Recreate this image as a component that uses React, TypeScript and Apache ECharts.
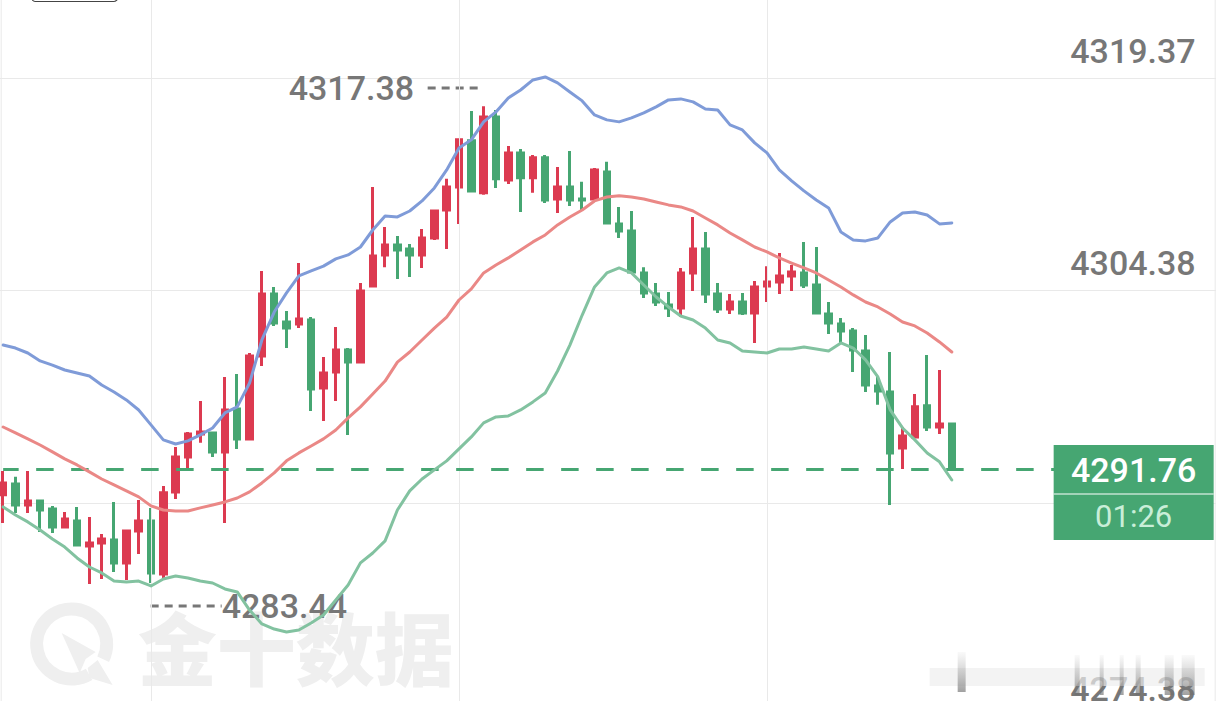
import React, { useEffect, useRef } from "react";
import * as echarts from "echarts";

const opens = [4289.95,4290.72,4289.24,4289.52,4288.95,4287.68,4288.11,4286.34,4286.56,4286.77,4285.15,4287.40,4288.11,4284.37,4290.16,4292.63,4294.25,4294.32,4292.98,4296.01,4293.90,4299.75,4304.13,4302.15,4302.01,4302.29,4297.49,4298.62,4300.17,4299.32,4304.69,4306.88,4307.58,4307.30,4306.88,4308.08,4310.05,4311.68,4314.93,4311.26,4316.62,4312.17,4314.08,4312.32,4313.73,4310.83,4311.68,4310.83,4310.83,4312.74,4309.07,4308.57,4305.61,4304.13,4303.35,4303.14,4305.61,4307.30,4304.13,4303.06,4303.56,4302.78,4304.69,4304.97,4305.40,4305.61,4304.76,4302.71,4302.01,4301.51,4300.10,4297.63,4297.21,4293.26,4294.04,4296.23,4294.74,4294.95];
const closes = [4290.79,4289.24,4289.52,4288.88,4287.68,4288.25,4286.41,4286.56,4286.84,4285.15,4287.40,4288.11,4284.44,4290.09,4292.63,4294.25,4294.39,4292.98,4295.94,4293.90,4299.75,4304.13,4302.08,4301.72,4302.36,4297.42,4298.55,4300.17,4299.32,4304.34,4306.81,4307.58,4307.23,4306.88,4308.08,4309.98,4311.68,4315.00,4311.40,4316.62,4312.25,4314.08,4312.32,4313.73,4310.76,4311.68,4310.76,4310.76,4312.88,4309.14,4308.57,4305.68,4304.20,4303.56,4303.14,4305.61,4307.30,4304.13,4303.06,4303.56,4302.78,4304.62,4304.97,4305.40,4305.68,4304.76,4302.78,4302.08,4301.51,4300.17,4297.70,4297.28,4292.91,4294.11,4296.16,4294.74,4294.95,4291.76];
const lows = [4287.97,4288.67,4288.67,4287.33,4287.26,4287.61,4286.34,4283.66,4284.01,4284.51,4283.95,4285.78,4283.73,4284.08,4289.66,4291.85,4293.62,4292.63,4287.97,4293.19,4293.90,4299.04,4301.87,4300.31,4301.72,4295.87,4295.17,4296.58,4294.18,4299.32,4304.69,4306.02,4305.19,4305.33,4305.96,4307.94,4307.30,4309.07,4311.40,4311.12,4311.61,4311.89,4309.91,4311.26,4310.55,4309.84,4310.34,4310.05,4310.83,4309.07,4308.08,4305.61,4303.84,4303.28,4302.50,4302.50,4304.34,4303.49,4302.78,4302.71,4302.64,4300.67,4303.56,4304.13,4304.34,4304.55,4302.71,4301.30,4300.67,4298.62,4297.21,4296.30,4289.24,4291.78,4294.04,4294.46,4294.25,4291.76];
const highs = [4291.64,4291.22,4291.64,4289.59,4289.17,4288.74,4289.10,4288.39,4287.19,4289.45,4287.47,4289.59,4289.03,4290.58,4293.33,4294.39,4296.58,4294.39,4298.27,4298.48,4299.96,4305.75,4304.62,4302.92,4306.31,4302.50,4299.68,4301.79,4300.31,4304.90,4311.68,4308.85,4308.22,4307.65,4308.71,4309.98,4312.25,4315.07,4317.04,4317.38,4317.11,4314.57,4314.36,4313.94,4313.94,4313.09,4314.22,4312.04,4313.02,4313.45,4310.27,4309.98,4306.02,4304.90,4304.27,4305.96,4309.56,4308.50,4304.90,4304.13,4304.20,4305.04,4306.09,4307.02,4306.17,4307.80,4307.44,4303.56,4302.43,4301.72,4301.23,4298.27,4300.03,4294.74,4297.07,4299.82,4298.76,4294.95];

const upperBand = [4300.52,4300.31,4299.96,4299.40,4299.11,4298.76,4298.55,4298.34,4297.70,4297.21,4296.65,4295.94,4294.89,4293.83,4293.54,4293.76,4294.18,4294.67,4295.73,4296.16,4297.84,4300.88,4302.85,4304.20,4305.40,4305.75,4306.09,4306.60,4306.88,4307.44,4308.64,4309.63,4309.56,4309.98,4310.69,4311.61,4312.88,4314.43,4315.00,4316.27,4316.97,4317.96,4318.52,4319.23,4319.44,4319.02,4318.38,4317.75,4316.76,4316.41,4316.27,4316.55,4316.90,4317.33,4317.82,4317.89,4317.68,4317.18,4317.11,4316.06,4315.70,4314.79,4314.08,4312.88,4312.11,4311.40,4310.76,4310.20,4308.50,4307.94,4307.87,4308.08,4309.21,4309.84,4309.91,4309.70,4309.07,4309.14];
const middleBand = [4294.74,4294.32,4293.90,4293.47,4292.98,4292.49,4292.06,4291.57,4291.07,4290.65,4290.23,4289.81,4289.17,4288.88,4288.81,4288.81,4289.03,4289.24,4289.45,4289.73,4290.16,4290.79,4291.50,4292.35,4292.91,4293.40,4293.90,4294.53,4295.38,4296.16,4297.07,4297.98,4299.32,4300.03,4300.88,4301.72,4302.50,4303.70,4304.48,4305.61,4306.17,4306.67,4307.23,4307.80,4308.29,4309.00,4309.56,4310.05,4310.69,4310.97,4311.05,4310.97,4310.83,4310.62,4310.41,4310.27,4309.98,4309.49,4309.00,4308.43,4307.94,4307.44,4307.09,4306.67,4306.31,4305.96,4305.61,4305.11,4304.62,4304.06,4303.56,4303.21,4302.71,4302.15,4301.87,4301.37,4300.74,4300.03];
const lowerBand = [4289.10,4288.53,4288.04,4287.47,4286.84,4286.27,4285.50,4284.86,4284.44,4283.87,4283.80,4283.87,4283.52,4284.01,4284.22,4284.08,4283.87,4283.73,4283.31,4283.10,4281.82,4280.84,4280.48,4280.27,4280.41,4280.91,4281.47,4282.53,4283.59,4285.15,4285.85,4286.70,4288.88,4290.23,4291.07,4291.71,4292.35,4293.19,4294.04,4295.03,4295.45,4295.52,4295.94,4296.51,4297.14,4298.69,4300.52,4302.64,4304.62,4305.61,4305.96,4305.61,4304.76,4303.91,4303.21,4302.57,4302.29,4301.72,4300.88,4300.67,4300.10,4300.03,4299.96,4300.24,4300.24,4300.38,4300.24,4300.10,4300.67,4300.31,4299.47,4298.27,4295.94,4294.67,4293.83,4292.91,4292.28,4291.00];

const yGridValues = [4319.37, 4304.38, 4289.38, 4274.38];
const yTickLabels = [4319.37, 4304.38, 4274.38];
const verticalGridAt = [12, 37, 62];
const highLabel = "4317.38";
const lowLabel = "4283.44";
const lastPrice = 4291.76;
const lastPriceText = "4291.76";
const countdownText = "01:26";
const watermarkText = "金十数据";
const slotCount = 99;

const RED = "#dc3a50";
const GREEN = "#46a672";
const GREY = "#777777";
const FONT = "Roboto";

const streaks: [number, number, number][] = [[958, 8, 652], [1075, 5, 655], [1100, 4, 655], [1120, 4, 655], [1136, 5, 655], [1165, 9, 655], [1182, 13, 655]];

export default function App() {
  const ref = useRef<HTMLDivElement>(null);
  useEffect(() => {
    document.documentElement.style.overflow = "hidden";
    document.body.style.margin = "0";
    document.body.style.overflow = "hidden";
    const chart = echarts.init(ref.current!, undefined, { renderer: "svg" });
    const candles = opens.map((o, i) => [o, closes[i], lows[i], highs[i]]);
    const categories = Array.from({ length: slotCount }, (_, i) => String(i));
    const bandLine = (name: string, data: number[], color: string) => ({
      name,
      type: "line",
      data,
      z: 5,
      symbol: "none",
      silent: true,
      lineStyle: { color, width: 3, join: "round", cap: "round" },
    });
    const wmStyle = { fill: "#efefef" };
    chart.setOption({
      animation: false,
      backgroundColor: "#ffffff",
      grid: { left: 0, top: 0, width: 12.32 * slotCount, height: 760, containLabel: false },
      xAxis: {
        type: "category",
        data: categories,
        boundaryGap: true,
        axisLine: { show: false },
        axisLabel: { show: false },
        axisTick: { show: false },
        splitLine: { show: false },
      },
      yAxis: {
        type: "value",
        position: "right",
        min: 4271.24,
        max: 4324.87,
        axisLine: { show: false },
        axisTick: { show: false, customValues: yGridValues },
        axisLabel: {
          inside: true,
          customValues: yTickLabels,
          formatter: (v: number) => v.toFixed(2),
          color: GREY,
          fontFamily: FONT,
          fontWeight: 500,
          fontSize: 34,
          margin: 21,
          verticalAlign: "bottom",
          lineHeight: 34,
          padding: [0, 0, 10, 0],
        },
        splitLine: { show: true, lineStyle: { color: "#e9e9e9", width: 1 } },
      },
      series: [
        {
          name: "verticals",
          type: "line",
          data: [],
          z: 0,
          symbol: "none",
          silent: true,
          markLine: {
            silent: true,
            symbol: "none",
            label: { show: false },
            lineStyle: { color: "#e9e9e9", width: 1, type: "solid" },
            data: verticalGridAt.map((i) => ({ xAxis: i })),
            animation: false,
          },
        },
        {
          name: "last",
          type: "line",
          data: [],
          z: 1,
          symbol: "none",
          silent: true,
          markLine: {
            silent: true,
            symbol: "none",
            label: { show: false },
            lineStyle: { color: GREEN, width: 3, type: [17.5, 17.5], dashOffset: 1.8 },
            data: [[{ coord: [0, lastPrice] }, { coord: [86, lastPrice] }]],
            animation: false,
          },
        },
        {
          name: "price",
          type: "candlestick",
          z: 3,
          barWidth: 6,
          data: candles,
          silent: true,
          itemStyle: { color: RED, color0: GREEN, borderColor: RED, borderColor0: GREEN, borderWidth: 3 },
        },
        bandLine("upper", upperBand, "#7f9bd8"),
        bandLine("middle", middleBand, "#ea8886"),
        bandLine("lower", lowerBand, "#82c2a0"),
      ],
      graphic: [
        {
          type: "group",
          x: 2.66,
          y: 0,
          children: [
            // watermark
            { type: "arc", z: -1, shape: { cx: 72, cy: 644, r: 35, startAngle: 1.05, endAngle: 0.45, clockwise: true }, style: { stroke: "#efefef", lineWidth: 13, fill: "none" } },
            { type: "polygon", z: -1, shape: { points: [[62, 633], [96, 652], [86, 659], [80, 673]] }, style: wmStyle },
            { type: "polygon", z: -1, shape: { points: [[98, 660], [113, 685], [90, 678], [88, 668]] }, style: wmStyle },
            { type: "text", z: -1, x: 138, y: 645, style: { text: watermarkText, font: '900 79px "Noto Sans CJK SC"', fill: "#efefef", verticalAlign: "middle" } },
            // blurred stamp
            { type: "rect", z: 8, shape: { x: 930, y: 668, width: 275, height: 18 }, style: { fill: "#eeeeee", opacity: 0.7 } },
            ...streaks.map(([x, w, y]) => ({
              type: "rect",
              z: 9,
              shape: { x, y, width: w, height: 40 },
              style: {
                fill: new echarts.graphic.LinearGradient(0, 0, 0, 1, [
                  { offset: 0, color: "rgba(150,150,150,0.05)" },
                  { offset: 1, color: "rgba(110,110,110,0.65)" },
                ]),
              },
            })),
            // annotations
            { type: "text", z: 4, x: 289, y: 88, style: { text: highLabel, font: `500 34px ${FONT}`, fill: GREY, verticalAlign: "middle" } },
            { type: "line", z: 4, shape: { x1: 428, y1: 88, x2: 478, y2: 88 }, style: { stroke: GREY, lineWidth: 3, lineDash: [8, 6] } },
            { type: "line", z: 4, shape: { x1: 151, y1: 606, x2: 222, y2: 606 }, style: { stroke: GREY, lineWidth: 3, lineDash: [8, 6] } },
            { type: "text", z: 4, x: 222, y: 606, style: { text: lowLabel, font: `500 34px ${FONT}`, fill: GREY, verticalAlign: "middle" } },
            // edge lines and clipped box
            { type: "line", z: 0, shape: { x1: 1.5, y1: 0, x2: 1.5, y2: 701 }, style: { stroke: "#e9e9e9", lineWidth: 1 } },
            { type: "line", z: 0, shape: { x1: 1215.5, y1: 0, x2: 1215.5, y2: 701 }, style: { stroke: "#e9e9e9", lineWidth: 1 } },
            { type: "rect", z: 20, shape: { x: 32, y: -20, width: 86, height: 21.5, r: 4 }, style: { stroke: "#444444", fill: "none", lineWidth: 1.2 } },
            // last price tag
            { type: "rect", z: 30, shape: { x: 1054, y: 445, width: 160, height: 95 }, style: { fill: GREEN } },
            { type: "line", z: 31, shape: { x1: 1054, y1: 494, x2: 1214, y2: 494 }, style: { stroke: "#ffffff", lineWidth: 1 } },
            { type: "text", z: 31, x: 1134, y: 470, style: { text: lastPriceText, font: `500 34px ${FONT}`, fill: "#ffffff", align: "center", verticalAlign: "middle" } },
            { type: "text", z: 31, x: 1134, y: 516, style: { text: countdownText, font: `400 31px ${FONT}`, fill: "#c9eed8", align: "center", verticalAlign: "middle" } },
          ],
        },
      ],
    });
    return () => chart.dispose();
  }, []);
  return (
    <div style={{ position: "absolute", left: 0, top: 0, width: 1216, height: 701, overflow: "hidden" }}>
      <div ref={ref} style={{ position: "absolute", left: -2.66, top: 0, width: 1220, height: 760 }} />
    </div>
  );
}
